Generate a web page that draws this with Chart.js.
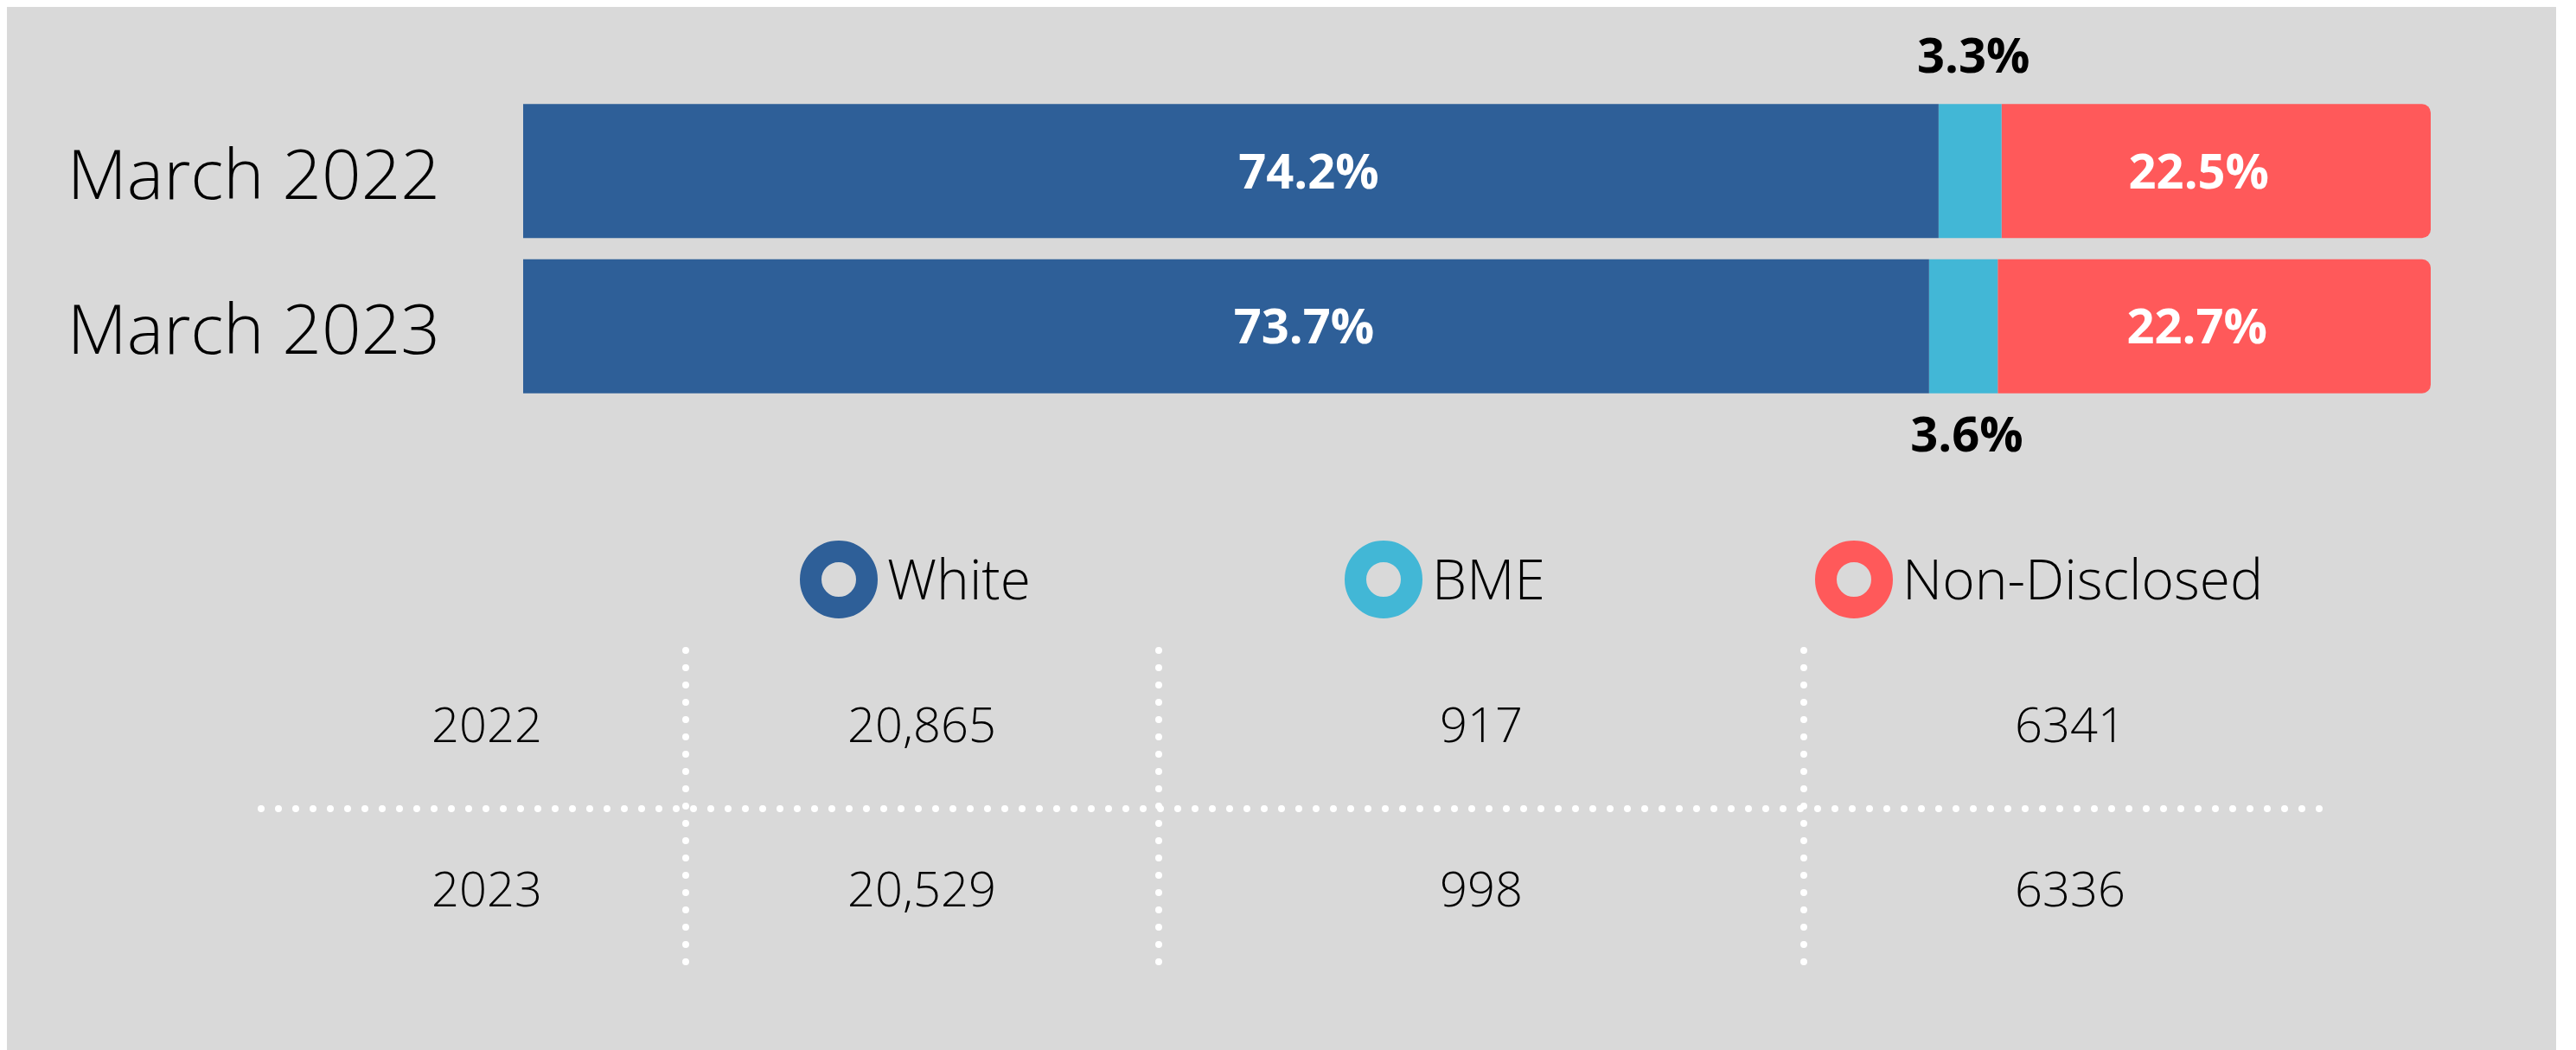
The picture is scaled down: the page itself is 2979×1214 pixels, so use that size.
<!DOCTYPE html>
<html>
<head>
<meta charset="utf-8">
<script src="https://cdn.jsdelivr.net/npm/chart.js@4/dist/chart.umd.min.js"></script>
<style>
  html, body { margin: 0; padding: 0; background: #ffffff; }
  canvas { display: block; }
</style>
</head>
<body>
<canvas id="c" width="2979" height="1214"></canvas>
<script>
// ---- data ----
const categories = ['March 2022', 'March 2023'];
const seriesNames = ['White', 'BME', 'Non-Disclosed'];
const whitePct = [74.2, 73.7];
const bmePct = [3.3, 3.6];
const nonDisclosedPct = [22.5, 22.7];
const tableYears = ['2022', '2023'];
const whiteCounts = ['20,865', '20,529'];
const bmeCounts = ['917', '998'];
const nonDisclosedCounts = ['6341', '6336'];

// ---- styles ----
const colors = ['#2E5F98', '#42B7D6', '#FF595A'];
const FONT = "'Open Sans', 'Noto Sans', sans-serif";

const bgPlugin = {
  id: 'bg',
  beforeDraw(chart) {
    const ctx = chart.ctx;
    ctx.save();
    ctx.fillStyle = '#ffffff';
    ctx.fillRect(0, 0, chart.width, chart.height);
    ctx.fillStyle = '#D9D9D9';
    ctx.fillRect(8, 8, 2948, chart.height - 8);
    ctx.restore();
  }
};

const labelPlugin = {
  id: 'valueLabels',
  afterDatasetsDraw(chart) {
    const ctx = chart.ctx;
    const offsets = [90, 4, -20];
    ctx.save();
    ctx.font = `700 56px ${FONT}`;
    ctx.textAlign = 'center';
    ctx.textBaseline = 'alphabetic';
    chart.data.datasets.forEach((ds, di) => {
      const meta = chart.getDatasetMeta(di);
      meta.data.forEach((bar, i) => {
        const txt = ds.data[i].toFixed(1) + '%';
        const cx = (bar.x + bar.base) / 2 + offsets[di];
        const half = bar.height / 2;
        if (di === 1) {
          ctx.fillStyle = '#000000';
          if (i === 0) ctx.fillText(txt, cx, bar.y - half - 36);
          else ctx.fillText(txt, cx, bar.y + half + 67);
        } else {
          ctx.fillStyle = '#ffffff';
          ctx.fillText(txt, cx, bar.y + 20);
        }
      });
    });
    ctx.restore();
  }
};

const legendTablePlugin = {
  id: 'legendTable',
  afterDraw(chart) {
    const ctx = chart.ctx;
    ctx.save();
    // legend
    const legendRingX = [970, 1600, 2144];
    const legendY = 670;
    chart.data.datasets.forEach((ds, i) => {
      const x = legendRingX[i];
      ctx.beginPath();
      ctx.arc(x, legendY, 32.5, 0, Math.PI * 2);
      ctx.lineWidth = 25;
      ctx.strokeStyle = ds.backgroundColor;
      ctx.stroke();
      ctx.fillStyle = '#000000';
      ctx.font = `300 64px ${FONT}`;
      ctx.textAlign = 'left';
      ctx.textBaseline = 'alphabetic';
      ctx.fillText(ds.label, x + 56, 693);
    });

    // table
    const columns = [tableYears, whiteCounts, bmeCounts, nonDisclosedCounts];
    const colCenters = [563, 1066, 1713, 2394];
    const rowBaselines = [858, 1048];
    ctx.fillStyle = '#000000';
    ctx.font = `300 56px ${FONT}`;
    ctx.textAlign = 'center';
    columns.forEach((col, c) => {
      col.forEach((v, r) => ctx.fillText(v, colCenters[c], rowBaselines[r]));
    });

    // dotted separators
    ctx.strokeStyle = '#ffffff';
    ctx.lineWidth = 8;
    ctx.lineCap = 'round';
    ctx.setLineDash([0, 20]);
    [793, 1340, 2086].forEach(x => {
      ctx.beginPath();
      ctx.moveTo(x, 752);
      ctx.lineTo(x, 1113);
      ctx.stroke();
    });
    ctx.beginPath();
    ctx.moveTo(302, 935);
    ctx.lineTo(2690, 935);
    ctx.stroke();
    ctx.restore();
  }
};

new Chart(document.getElementById('c'), {
  type: 'bar',
  data: {
    labels: categories,
    datasets: [
      { label: seriesNames[0], data: whitePct, backgroundColor: colors[0], borderRadius: 0 },
      { label: seriesNames[1], data: bmePct, backgroundColor: colors[1], borderRadius: 0 },
      { label: seriesNames[2], data: nonDisclosedPct, backgroundColor: colors[2], borderRadius: 10 }
    ]
  },
  options: {
    indexAxis: 'y',
    responsive: false,
    devicePixelRatio: 1,
    animation: false,
    layout: { padding: { left: 0, right: 168, top: 108, bottom: 747 } },
    datasets: { bar: { barPercentage: 0.8635, categoryPercentage: 1, borderWidth: 0, borderSkipped: 'start' } },
    plugins: { legend: { display: false }, tooltip: { enabled: false } },
    scales: {
      x: { stacked: true, min: 0, max: 100, display: false },
      y: {
        stacked: true,
        grid: { display: false, drawTicks: false },
        border: { display: false },
        ticks: { color: '#000000', padding: 96, labelOffset: 9, font: { family: FONT, size: 80, weight: '300' } },
        afterFit(scale) {
          scale.width = 605;
          scale.paddingTop = 0;
          scale.paddingBottom = 0;
        }
      }
    }
  },
  plugins: [bgPlugin, labelPlugin, legendTablePlugin]
});
</script>
</body>
</html>
